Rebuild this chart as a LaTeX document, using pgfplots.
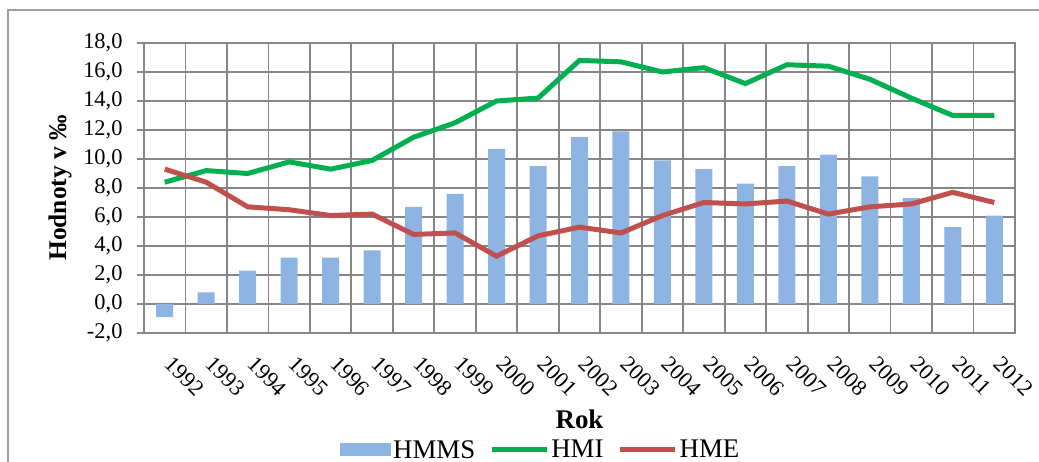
\documentclass[border=0pt]{standalone}
\usepackage{fontspec}
\setmainfont{Liberation Serif}
\usepackage{pgfplots}
\pgfplotsset{compat=1.18}
\definecolor{barblue}{RGB}{141,180,226}
\definecolor{hmigreen}{RGB}{0,176,80}
\definecolor{hmered}{RGB}{192,80,77}
\definecolor{gridgray}{RGB}{134,134,134}
\begin{document}
\begin{tikzpicture}[x=1bp,y=1bp]
\draw[gridgray!80, line width=1.5bp] (8,-20) rectangle (1060,452);
\begin{axis}[
  at={(144bp,129bp)}, anchor=south west,
  width=871bp, height=290bp, scale only axis,
  xmin=-0.5, xmax=20.5, ymin=-2, ymax=18,
  ytick={-2,0,2,4,6,8,10,12,14,16,18},
  xtick={0,...,20},
  xticklabels={1992,1993,1994,1995,1996,1997,1998,1999,2000,2001,2002,2003,2004,2005,2006,2007,2008,2009,2010,2011,2012},
  minor xtick={-0.5,0.5,1.5,2.5,3.5,4.5,5.5,6.5,7.5,8.5,9.5,10.5,11.5,12.5,13.5,14.5,15.5,16.5,17.5,18.5,19.5,20.5},
  xminorgrids=true, ymajorgrids=true, xmajorgrids=false,
  grid style={gridgray, line width=1.8bp},
  minor grid style={gridgray, line width=1.8bp},
  axis line style={gridgray, line width=1.8bp},
  tick align=outside, major tick length=7bp, minor tick length=0bp,
  xtick style={draw=none}, ytick style={gridgray, line width=1.8bp},
  xtick pos=bottom, ytick pos=left,
  yticklabel style={font=\fontsize{22.5}{26}\selectfont, xshift=-11bp},
  xticklabel style={font=\fontsize{22.5}{26}\selectfont, xshift=9bp, yshift=-10bp, rotate=-45, anchor=north west},
  /pgf/number format/.cd, fixed, fixed zerofill, precision=1, use comma, assume math mode=true, 1000 sep={},
  /pgfplots/.cd,
  xlabel={\textbf{Rok}},
  xlabel style={at={(axis description cs:0.5,-0.296)}, anchor=center, font=\fontsize{27}{30}\selectfont},
  ylabel={\textbf{Hodnoty v ‰}},
  ylabel style={at={(axis description cs:-0.0964,0.5)}, anchor=center, font=\fontsize{25.5}{29}\selectfont},
  legend style={at={(axis description cs:0.4555,-0.403)}, anchor=center, draw=none, fill=none,
    legend columns=-1, font=\fontsize{27}{30}\selectfont,
    /tikz/every even column/.append style={column sep=12bp}},
  clip=false,
]
\addplot[ybar, bar width=17bp, fill=barblue, draw=none,
  legend image code/.code={\fill[barblue] (0bp,-6bp) rectangle (51bp,7bp);}]
 coordinates {(0,-0.9) (1,0.8) (2,2.3) (3,3.2) (4,3.2) (5,3.7) (6,6.7) (7,7.6) (8,10.7) (9,9.5) (10,11.5) (11,11.9) (12,9.9) (13,9.3) (14,8.3) (15,9.5) (16,10.3) (17,8.8) (18,7.3) (19,5.3) (20,6.1)};
\addlegendentry{HMMS}
\addplot[hmigreen, line width=5bp, mark=none,
  legend image code/.code={\draw[hmigreen, line width=5bp] (0bp,0bp) -- (55bp,0bp);}]
 coordinates {(0,8.4) (1,9.2) (2,9.0) (3,9.8) (4,9.3) (5,9.9) (6,11.5) (7,12.5) (8,14.0) (9,14.2) (10,16.8) (11,16.7) (12,16.0) (13,16.3) (14,15.2) (15,16.5) (16,16.4) (17,15.5) (18,14.2) (19,13.0) (20,13.0)};
\addlegendentry{HMI}
\addplot[hmered, line width=5bp, mark=none,
  legend image code/.code={\draw[hmered, line width=5bp] (0bp,0bp) -- (55bp,0bp);}]
 coordinates {(0,9.3) (1,8.4) (2,6.7) (3,6.5) (4,6.1) (5,6.2) (6,4.8) (7,4.9) (8,3.3) (9,4.7) (10,5.3) (11,4.9) (12,6.1) (13,7.0) (14,6.9) (15,7.1) (16,6.2) (17,6.7) (18,6.9) (19,7.7) (20,7.0)};
\addlegendentry{HME}
\end{axis}
\pgfresetboundingbox
\useasboundingbox (0,0) rectangle (1039,462);
\end{tikzpicture}
\end{document}
